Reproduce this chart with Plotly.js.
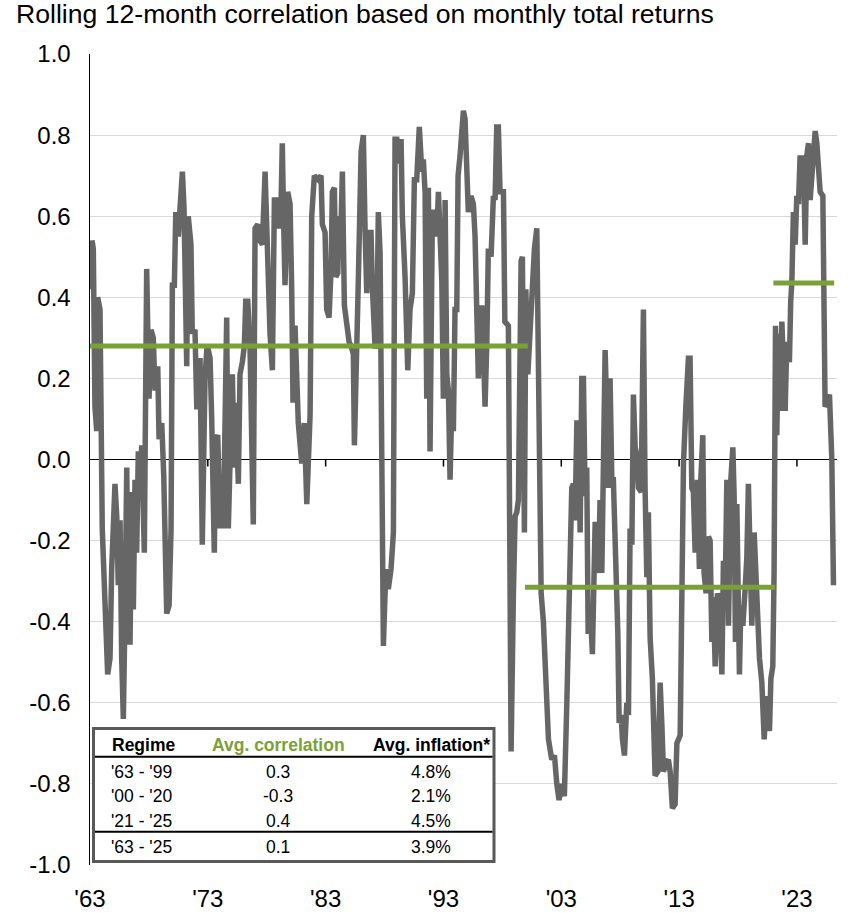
<!DOCTYPE html>
<html><head><meta charset="utf-8">
<script src="https://cdn.plot.ly/plotly-3.0.1.min.js"></script>
<style>html,body{margin:0;padding:0;background:#fff;}#chart{width:860px;height:913px;}</style>
</head><body><div id="chart"></div>
<script>
// ---- data ----
const years = [1963.04,1963.17,1963.28,1963.42,1963.57,1963.65,1963.85,1963.93,1964.04,1964.27,1964.50,1964.70,1964.84,1965.12,1965.27,1965.40,1965.55,1965.69,1965.83,1965.97,1966.12,1966.25,1966.40,1966.54,1966.68,1966.82,1966.96,1967.10,1967.24,1967.39,1967.61,1967.81,1968.01,1968.18,1968.37,1968.52,1968.75,1968.86,1969.09,1969.26,1969.51,1969.71,1969.88,1969.99,1970.16,1970.28,1970.50,1970.64,1970.84,1970.98,1971.21,1971.34,1971.57,1971.68,1971.91,1972.06,1972.19,1972.34,1972.53,1972.76,1972.91,1973.04,1973.19,1973.33,1973.55,1973.67,1973.84,1974.04,1974.18,1974.32,1974.60,1974.74,1974.97,1975.08,1975.25,1975.37,1975.59,1975.73,1975.93,1976.10,1976.22,1976.39,1976.58,1976.86,1977.01,1977.24,1977.43,1977.63,1977.86,1978.09,1978.28,1978.48,1978.65,1978.85,1978.98,1979.21,1979.32,1979.44,1979.55,1979.78,1979.98,1980.12,1980.23,1980.40,1980.68,1980.97,1981.19,1981.40,1981.68,1981.82,1982.04,1982.38,1982.61,1982.72,1982.95,1983.09,1983.29,1983.46,1983.57,1983.74,1983.86,1984.03,1984.14,1984.31,1984.42,1984.59,1984.79,1984.99,1985.16,1985.35,1985.44,1985.56,1985.78,1986.01,1986.20,1986.35,1986.49,1986.63,1986.85,1986.96,1987.19,1987.34,1987.47,1987.62,1987.76,1987.90,1988.03,1988.13,1988.32,1988.55,1988.75,1988.89,1989.04,1989.17,1989.40,1989.51,1989.74,1989.97,1990.16,1990.36,1990.53,1990.73,1990.95,1991.16,1991.29,1991.44,1991.58,1991.72,1991.86,1992.06,1992.29,1992.43,1992.57,1992.71,1992.86,1992.99,1993.14,1993.28,1993.42,1993.56,1993.70,1993.84,1993.98,1994.13,1994.24,1994.41,1994.69,1994.83,1994.98,1995.11,1995.34,1995.54,1995.68,1995.83,1995.96,1996.11,1996.25,1996.39,1996.53,1996.68,1996.81,1997.04,1997.24,1997.38,1997.52,1997.66,1997.80,1998.09,1998.21,1998.51,1998.74,1998.93,1999.08,1999.22,1999.36,1999.59,1999.70,1999.87,1999.99,2000.16,2000.35,2000.55,2000.72,2000.92,2001.06,2001.29,2001.48,2001.68,2001.91,2002.19,2002.42,2002.62,2002.81,2003.04,2003.26,2003.47,2003.60,2003.75,2003.89,2004.03,2004.17,2004.32,2004.45,2004.60,2004.74,2004.88,2005.02,2005.16,2005.28,2005.45,2005.64,2005.87,2006.01,2006.15,2006.29,2006.44,2006.72,2006.86,2007.00,2007.14,2007.29,2007.42,2007.57,2007.80,2007.91,2008.08,2008.19,2008.36,2008.56,2008.70,2008.84,2008.99,2009.12,2009.27,2009.41,2009.55,2009.78,2009.97,2010.11,2010.26,2010.39,2010.54,2010.73,2010.96,2011.19,2011.39,2011.53,2011.67,2011.87,2012.09,2012.24,2012.43,2012.66,2012.81,2013.09,2013.23,2013.37,2013.57,2013.79,2013.93,2014.08,2014.21,2014.36,2014.55,2014.72,2014.84,2015.01,2015.12,2015.29,2015.49,2015.63,2015.78,2015.91,2016.06,2016.25,2016.42,2016.63,2016.76,2016.91,2017.05,2017.19,2017.39,2017.56,2017.67,2017.78,2017.90,2018.12,2018.24,2018.41,2018.60,2018.75,2018.88,2019.03,2019.17,2019.37,2019.60,2019.82,2020.02,2020.22,2020.39,2020.50,2020.67,2020.79,2020.95,2021.06,2021.18,2021.29,2021.43,2021.57,2021.72,2021.85,2022.00,2022.14,2022.36,2022.47,2022.57,2022.70,2022.85,2022.99,2023.13,2023.27,2023.42,2023.55,2023.70,2023.84,2023.98,2024.12,2024.27,2024.55,2024.69,2024.83,2024.97,2025.20,2025.31,2025.39,2025.54,2025.76,2025.96,2026.10];
const correlation = [0.42,0.54,0.52,0.13,0.07,0.40,0.37,-0.15,-0.17,-0.35,-0.53,-0.49,-0.27,-0.06,-0.14,-0.31,-0.15,-0.49,-0.64,-0.38,-0.02,-0.45,-0.45,-0.08,-0.37,-0.05,-0.23,0.02,-0.07,0.035,-0.23,0.47,0.15,0.32,0.30,0.17,0.23,0.05,0.09,-0.04,-0.38,-0.36,-0.17,0.43,0.43,0.61,0.55,0.62,0.71,0.62,0.23,0.60,0.53,0.31,0.32,0.13,0.13,0.25,-0.21,0.20,0.27,0.27,0.25,0.10,-0.23,0.05,0.06,-0.17,-0.06,-0.17,0.35,-0.17,0.21,0.21,-0.02,0.14,-0.06,0.21,0.24,0.28,0.39,0.39,0.28,-0.16,0.57,0.58,0.54,0.53,0.71,0.46,0.31,0.22,0.64,0.64,0.57,0.62,0.78,0.58,0.43,0.66,0.63,0.42,0.14,0.33,0.09,-0.01,0.09,-0.11,0.11,0.60,0.70,0.69,0.70,0.58,0.56,0.37,0.35,0.47,0.66,0.67,0.45,0.46,0.60,0.58,0.71,0.38,0.32,0.29,0.28,0.26,0.035,0.24,0.45,0.76,0.80,0.56,0.41,0.56,0.56,0.43,0.28,0.28,0.61,0.51,0.05,-0.46,-0.34,-0.27,-0.32,-0.27,-0.18,0.79,0.79,0.73,0.79,0.60,0.45,0.22,0.37,0.41,0.69,0.69,0.82,0.71,0.74,0.66,0.15,0.67,0.02,0.61,0.61,0.55,0.66,0.55,0.44,0.15,0.64,0.21,0.17,-0.05,0.13,0.07,0.37,0.37,0.70,0.75,0.86,0.84,0.74,0.61,0.65,0.63,0.55,0.37,0.20,0.29,0.38,0.27,0.13,0.29,0.52,0.50,0.65,0.64,0.82,0.82,0.66,0.66,0.34,0.33,-0.72,-0.34,-0.14,-0.13,-0.10,0.49,0.50,-0.18,0.42,0.21,0.31,0.44,0.52,0.57,0.21,-0.33,-0.40,-0.58,-0.69,-0.74,-0.73,-0.80,-0.84,-0.80,-0.83,-0.60,-0.44,-0.29,-0.07,-0.06,-0.15,0.09,0.09,-0.18,0.20,0.20,-0.09,-0.02,-0.43,-0.36,-0.48,-0.16,-0.16,-0.28,-0.10,-0.28,0.27,0.12,-0.07,0.20,-0.05,-0.05,-0.18,-0.43,-0.65,-0.63,-0.69,-0.73,-0.60,-0.63,-0.17,-0.21,0.16,0.03,0.01,-0.07,-0.08,0.37,-0.07,-0.29,-0.13,-0.44,-0.54,-0.78,-0.77,-0.55,-0.65,-0.77,-0.75,-0.74,-0.77,-0.86,-0.85,-0.70,-0.68,-0.26,-0.01,0.13,0.25,0.25,-0.07,-0.08,-0.23,-0.05,-0.27,-0.05,0.06,-0.28,-0.33,-0.19,-0.20,-0.45,-0.34,-0.51,-0.33,-0.36,-0.53,-0.25,-0.33,-0.05,-0.41,-0.05,0.03,-0.09,-0.45,-0.11,-0.53,-0.36,-0.41,-0.32,-0.24,-0.06,-0.19,-0.41,-0.18,-0.38,-0.49,-0.55,-0.69,-0.59,-0.59,-0.67,-0.54,-0.51,-0.28,0.33,0.06,0.31,0.12,0.34,0.24,0.12,0.29,0.24,0.39,0.44,0.61,0.53,0.65,0.63,0.75,0.65,0.75,0.53,0.75,0.78,0.64,0.70,0.81,0.78,0.73,0.66,0.65,0.33,0.13,0.14,0.16,0.00,-0.31];

const regimeStart = [1963.0, 1999.92, 2021.0];
const regimeEnd = [2000.16, 2021.15, 2026.16];
const regimeAvg = [0.28, -0.315, 0.435];

const tableHeader = ['Regime', 'Avg. correlation', 'Avg. inflation*'];
const regimes = ["'63 - '99", "'00 - '20", "'21 - '25", "'63 - '25"];
const avgCorrelation = ['0.3', '-0.3', '0.4', '0.1'];
const avgInflation = ['4.8%', '2.1%', '4.5%', '3.9%'];

const xTickVals = [1963, 1973, 1983, 1993, 2003, 2013, 2023];
const xTickText = ["'63", "'73", "'83", "'93", "'03", "'13", "'23"];
const yTickVals = [-1.0, -0.8, -0.6, -0.4, -0.2, 0.0, 0.2, 0.4, 0.6, 0.8, 1.0];
const yTickText = ['-1.0', '-0.8', '-0.6', '-0.4', '-0.2', '0.0', '0.2', '0.4', '0.6', '0.8', '1.0'];

// ---- layout helpers (pixel -> paper) ----
const W = 860, H = 913;
const M = {l: 90, r: 23, t: 54, b: 48};
const PW = W - M.l - M.r, PH = H - M.t - M.b;
const px2x = px => (px - M.l) / PW;
const py2y = py => (H - M.b - py) / PH;

const GRAY = '#666666';
const GREEN = '#7aa136';
const FONT = 'Liberation Sans, Arial, sans-serif';

const traces = [{
  x: years, y: correlation, type: 'scatter', mode: 'lines',
  line: {color: GRAY, width: 5.5}, hoverinfo: 'skip'
}];
regimeAvg.forEach((v, i) => {
  traces.push({
    x: [regimeStart[i], regimeEnd[i]], y: [v, v], type: 'scatter', mode: 'lines',
    line: {color: GREEN, width: 5}, hoverinfo: 'skip'
  });
});

const shapes = [];
// tick marks on the zero line
xTickVals.slice(1).forEach(t => {
  shapes.push({type: 'line', xref: 'x', x0: t, x1: t, yref: 'y', ysizemode: 'pixel', yanchor: 0,
    y0: 0, y1: -7, line: {color: '#000', width: 1.5}, layer: 'above'});
});
// table box
const T = {x0: 93.5, x1: 494, y0: 728.5, y1: 861.5};
shapes.push({type: 'rect', xref: 'paper', yref: 'paper', x0: px2x(T.x0), x1: px2x(T.x1),
  y0: py2y(T.y1), y1: py2y(T.y0), fillcolor: '#ffffff', line: {color: '#595959', width: 3}, layer: 'above'});
[756.7, 831.7].forEach(py => {
  shapes.push({type: 'line', xref: 'paper', yref: 'paper', x0: px2x(T.x0 + 1.5), x1: px2x(T.x1 - 1.5),
    y0: py2y(py), y1: py2y(py), line: {color: '#000', width: 2}, layer: 'above'});
});

const annotations = [];
const colX = [143, 278, 431];
const headerY = 745;
const rowY = [771.7, 796, 820.7, 846.7];
const TF = 17.5;
tableHeader.forEach((h, i) => {
  annotations.push({xref: 'paper', yref: 'paper', x: px2x(colX[i]), y: py2y(headerY),
    xanchor: 'center', yanchor: 'middle', showarrow: false, text: '<b>' + h + '</b>',
    font: {family: FONT, size: TF, color: i === 1 ? GREEN : '#000'}});
});
regimes.forEach((r, j) => {
  annotations.push({xref: 'paper', yref: 'paper', x: px2x(109), y: py2y(rowY[j]),
    xanchor: 'left', yanchor: 'middle', showarrow: false, text: r,
    font: {family: FONT, size: TF, color: '#000'}});
  annotations.push({xref: 'paper', yref: 'paper', x: px2x(colX[1]), y: py2y(rowY[j]),
    xanchor: 'center', yanchor: 'middle', showarrow: false, text: avgCorrelation[j],
    font: {family: FONT, size: TF, color: '#000'}});
  annotations.push({xref: 'paper', yref: 'paper', x: px2x(colX[2]), y: py2y(rowY[j]),
    xanchor: 'center', yanchor: 'middle', showarrow: false, text: avgInflation[j],
    font: {family: FONT, size: TF, color: '#000'}});
});

const layout = {
  width: W, height: H,
  margin: M,
  paper_bgcolor: '#fff', plot_bgcolor: '#fff',
  showlegend: false,
  font: {family: FONT, color: '#000'},
  title: {text: 'Rolling 12-month correlation based on monthly total returns',
    font: {family: FONT, size: 26.6, color: '#000'},
    xref: 'container', x: 16 / W, xanchor: 'left',
    yref: 'container', y: 1 - 14 / H, yanchor: 'middle'},
  xaxis: {range: [1963, 2026.4], tickvals: xTickVals, ticktext: xTickText,
    showgrid: false, zeroline: false, showline: false, ticks: '',
    tickfont: {family: FONT, size: 24, color: '#000'}, ticklabelstandoff: 17, fixedrange: true},
  yaxis: {range: [-1, 1], tickvals: yTickVals, ticktext: yTickText,
    showgrid: true, gridcolor: '#d9d9d9', gridwidth: 1,
    zeroline: true, zerolinecolor: '#000', zerolinewidth: 1.5,
    showline: true, linecolor: '#000', linewidth: 1.5, ticks: '',
    tickfont: {family: FONT, size: 24, color: '#000'}, ticklabelstandoff: 13, fixedrange: true},
  shapes: shapes,
  annotations: annotations
};

Plotly.newPlot('chart', traces, layout, {displayModeBar: false, staticPlot: true});
</script>
</body></html>
